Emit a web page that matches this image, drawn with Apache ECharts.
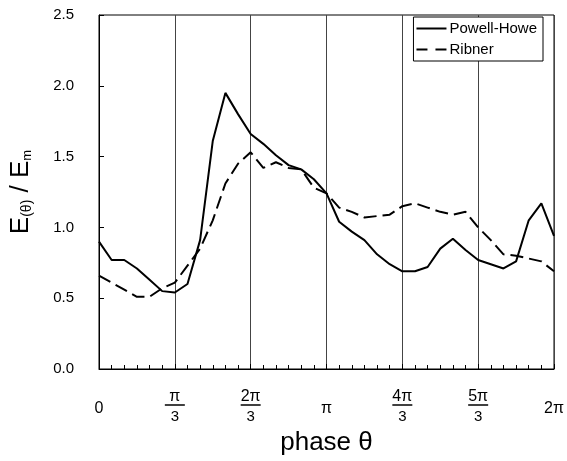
<!DOCTYPE html>
<html><head><meta charset="utf-8">
<script src="https://cdn.jsdelivr.net/npm/echarts@6/dist/echarts.min.js"></script>
<style>html,body{margin:0;padding:0;background:#fff}#c{width:567px;height:461px}</style>
</head><body><div id="c"></div>
<script>
const phaseDeg = [0,10,20,30,40,50,60,70,80,90,100,110,120,130,140,150,160,170,180,190,200,210,220,230,240,250,260,270,280,290,300,310,320,330,340,350,360];
const powellHowe = [0.90,0.77,0.77,0.71,0.63,0.55,0.54,0.60,0.91,1.61,1.95,1.80,1.66,1.59,1.51,1.44,1.41,1.34,1.24,1.04,0.97,0.91,0.81,0.74,0.69,0.69,0.72,0.85,0.92,0.84,0.77,0.74,0.71,0.76,1.05,1.17,0.94];
const ribner = [0.66,0.61,0.56,0.51,0.51,0.57,0.61,0.73,0.85,1.05,1.31,1.45,1.53,1.42,1.46,1.42,1.41,1.28,1.24,1.14,1.11,1.07,1.08,1.09,1.15,1.17,1.14,1.11,1.09,1.11,1.00,0.91,0.81,0.80,0.78,0.76,0.69];
const xTickLabels = {0:'0',60:'π/3',120:'2π/3',180:'π',240:'4π/3',300:'5π/3',360:'2π'};
const yTicks = [0,0.5,1.0,1.5,2.0,2.5];

const chart = echarts.init(document.getElementById('c'));
const FONT = '"Liberation Sans", Arial, sans-serif';
function fmtX(v){
  const s = xTickLabels[v];
  if (s === undefined) return '';
  if (s.indexOf('/') >= 0) {
    const [n,d] = s.split('/');
    return '{n|' + n + '}\n{b|}\n{d|' + d + '}';
  }
  return '{s|' + s + '}';
}
chart.setOption({
  animation:false,
  backgroundColor:'#fff',
  grid:{left:98,right:13,top:15,bottom:92,show:true,borderColor:'#000',borderWidth:1},
  legend:{
    orient:'vertical', right:24, top:17, itemWidth:30, itemHeight:10, itemGap:6,
    backgroundColor:'#fff', borderColor:'#000', borderWidth:1, padding:[4,6,4,3],
    textStyle:{fontFamily:FONT,fontSize:15,color:'#000',padding:[0,0,0,-2]},
    data:[{name:'Powell-Howe',icon:'path://M0,4L30,4L30,6L0,6Z'},{name:'Ribner',icon:'path://M0,4L11,4L11,6L0,6ZM19,4L30,4L30,6L19,6Z'}]
  },
  xAxis:{
    type:'value', min:0, max:360, interval:60,
    name:'phase θ', nameLocation:'middle', nameGap:61,
    nameTextStyle:{fontFamily:FONT,fontSize:26,color:'#000'},
    axisLine:{lineStyle:{color:'#000',width:1}},
    axisTick:{show:true,inside:true,length:5,lineStyle:{color:'#000'}},
    minorTick:{show:true,splitNumber:6,length:4,lineStyle:{color:'#000'}},
    splitLine:{show:true,lineStyle:{color:'#444',width:1}},
    axisLabel:{
      margin:22, formatter:fmtX, color:'#000',
      rich:{
        n:{fontFamily:FONT,fontSize:16,lineHeight:12,align:'center',color:'#000'},
        b:{width:20,height:1.5,backgroundColor:'#000',lineHeight:4},
        d:{fontFamily:FONT,fontSize:15,lineHeight:20,align:'center',color:'#000'},
        s:{fontFamily:FONT,fontSize:16,lineHeight:36,align:'center',color:'#000'}
      }
    }
  },
  yAxis:{
    type:'value', min:0, max:2.5, interval:0.5,
    name:'{b|E}{s|(θ)}{b| / E}{m|m}', nameLocation:'middle', nameGap:65, nameRotate:90,
    nameTextStyle:{rich:{
      b:{fontFamily:FONT,fontSize:26,color:'#000',verticalAlign:'bottom',lineHeight:30},
      s:{fontFamily:FONT,fontSize:14,color:'#000',verticalAlign:'bottom',lineHeight:27},
      m:{fontFamily:FONT,fontSize:13,color:'#000',verticalAlign:'bottom',lineHeight:27}
    }},
    axisLine:{show:true,lineStyle:{color:'#000',width:1}},
    axisTick:{show:true,inside:true,length:5,lineStyle:{color:'#000'}},
    splitLine:{show:false},
    axisLabel:{margin:25,fontFamily:FONT,fontSize:15,color:'#000',formatter:v=>v.toFixed(1)}
  },
  series:[
    {name:'Powell-Howe',type:'line',data:phaseDeg.map((d,i)=>[d,powellHowe[i]]),showSymbol:false,symbol:'none',
     lineStyle:{color:'#000',width:2},itemStyle:{color:'#000'}},
    {name:'Ribner',type:'line',data:phaseDeg.map((d,i)=>[d,ribner[i]]),showSymbol:false,symbol:'none',
     lineStyle:{color:'#000',width:2,type:[13,6]},itemStyle:{color:'#000'}}
  ]
});
</script></body></html>
